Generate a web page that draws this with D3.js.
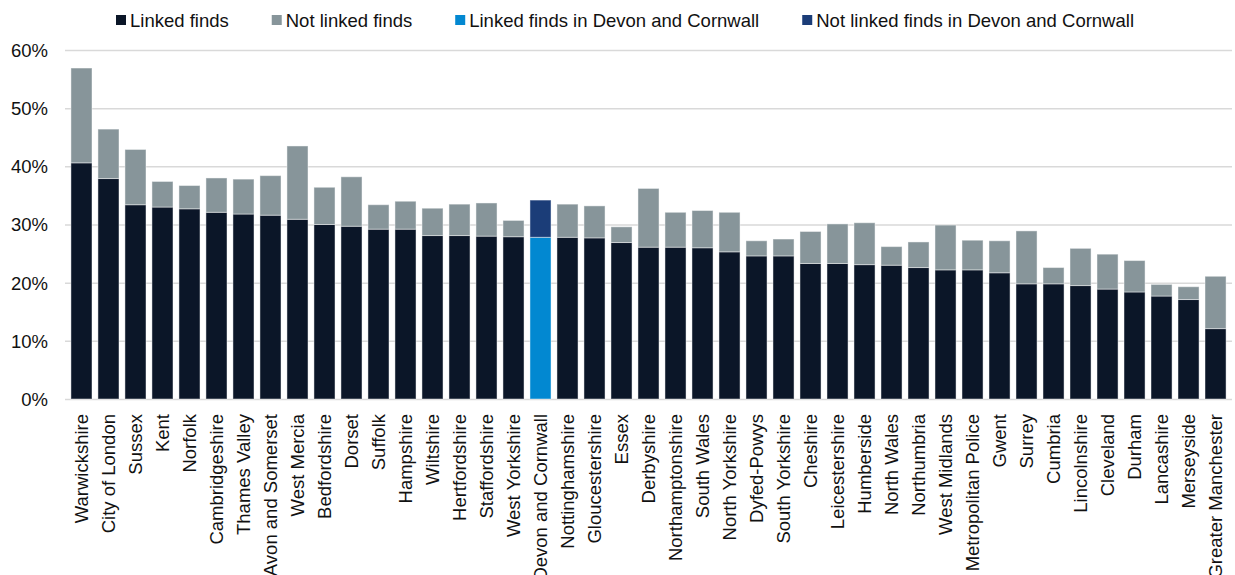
<!DOCTYPE html>
<head>
<meta charset="utf-8">
<style>

body {
  margin: 0;
  font-family: "Liberation Sans", Arial, sans-serif;
  background: #fff;
}

.grid line {
  stroke: #d9d9d9;
  stroke-width: 1.5;
}

.axis text {
  font-size: 18.5px;
  fill: #111;
}

.legend text {
  font-size: 18.5px;
  fill: #111;
}

</style>

<script src="https://cdn.jsdelivr.net/npm/d3@7"></script>
</head>

<body>

<div id="chart"></div>

<script>

var forces = ["Warwickshire", "City of London", "Sussex", "Kent", "Norfolk", "Cambridgeshire",
  "Thames Valley", "Avon and Somerset", "West Mercia", "Bedfordshire", "Dorset", "Suffolk",
  "Hampshire", "Wiltshire", "Hertfordshire", "Staffordshire", "West Yorkshire", "Devon and Cornwall",
  "Nottinghamshire", "Gloucestershire", "Essex", "Derbyshire", "Northamptonshire", "South Wales",
  "North Yorkshire", "Dyfed-Powys", "South Yorkshire", "Cheshire", "Leicestershire", "Humberside",
  "North Wales", "Northumbria", "West Midlands", "Metropolitan Police", "Gwent", "Surrey",
  "Cumbria", "Lincolnshire", "Cleveland", "Durham", "Lancashire", "Merseyside", "Greater Manchester"];

// percent of finds linked to a suspect
var linked = [40.6, 37.9, 33.4, 33.0, 32.7, 32.1, 31.8, 31.6, 30.9, 30.0, 29.7, 29.2,
  29.2, 28.1, 28.1, 28.0, 27.9, 27.8, 27.8, 27.7, 26.9, 26.1, 26.1, 26.0,
  25.3, 24.6, 24.6, 23.3, 23.3, 23.1, 23.0, 22.6, 22.2, 22.2, 21.7, 19.8,
  19.8, 19.5, 18.9, 18.4, 17.7, 17.1, 12.1];

// percent not linked, stacked on top
var notLinked = [16.3, 8.5, 9.5, 4.4, 4.0, 5.9, 6.0, 6.8, 12.6, 6.4, 8.5, 4.2,
  4.8, 4.7, 5.4, 5.7, 2.8, 6.4, 5.7, 5.5, 2.7, 10.1, 6.0, 6.4,
  6.8, 2.6, 2.9, 5.5, 6.8, 7.2, 3.2, 4.4, 7.7, 5.1, 5.5, 9.1,
  2.8, 6.4, 6.0, 5.4, 2.0, 2.2, 9.0];

var yTicks = [0, 10, 20, 30, 40, 50, 60];

var legendLabels = ["Linked finds", "Not linked finds",
  "Linked finds in Devon and Cornwall", "Not linked finds in Devon and Cornwall"];

var highlight = "Devon and Cornwall";

var colors = {
  linked: "#0b1628",
  notLinked: "#87959a",
  linkedHi: "#0288d1",
  notLinkedHi: "#1b3d78"
};

var margin = {top: 50, right: 3, bottom: 176, left: 65},
    width = 1235 - margin.left - margin.right,
    height = 575 - margin.top - margin.bottom;

var table = forces.map(function(f, i) {
  return {force: f, linked: linked[i], notLinked: notLinked[i]};
});

var series = d3.stack().keys(["linked", "notLinked"])(table);

var x = d3.scaleBand().domain(forces).range([0, width]).padding(0.22);

var y = d3.scaleLinear().domain([0, 60]).range([height, 0]);

var svg = d3.select("#chart").append("svg")
    .attr("width", width + margin.left + margin.right)
    .attr("height", height + margin.top + margin.bottom)
  .append("g")
    .attr("transform", "translate(" + margin.left + "," + margin.top + ")");

// gridlines + y labels
var yAxis = svg.append("g")
    .attr("class", "axis grid")
    .call(d3.axisLeft(y).tickValues(yTicks).tickSize(-width).tickPadding(17)
      .tickFormat(function(d) { return d + "%"; }));
yAxis.select(".domain").remove();
yAxis.selectAll("text").attr("dy", "0.35em");

svg.selectAll(".layer")
  .data(series)
  .enter().append("g")
    .attr("class", "layer")
  .selectAll("rect")
  .data(function(s) { return s.map(function(d) { d.key = s.key; return d; }); })
  .enter().append("rect")
    .attr("x", function(d) { return x(d.data.force); })
    .attr("width", x.bandwidth())
    .attr("y", function(d) { return y(d[1]); })
    .attr("height", function(d) { return y(d[0]) - y(d[1]); })
    .attr("fill", function(d) {
      if (d.data.force == highlight) { return d.key == "linked" ? colors.linkedHi : colors.notLinkedHi; }
      return colors[d.key];
    })
    .attr("stroke", "rgba(255,255,255,0.45)")
    .attr("stroke-width", 1);

var xAxis = svg.append("g")
    .attr("class", "axis")
    .attr("transform", "translate(0," + height + ")")
    .call(d3.axisBottom(x).tickSize(0));
xAxis.select(".domain").remove();
xAxis.selectAll("text")
    .attr("transform", "rotate(-90)")
    .attr("x", -15)
    .attr("y", 0)
    .attr("dy", "0.35em")
    .style("text-anchor", "end");

// legend
var legendColors = [colors.linked, colors.notLinked, colors.linkedHi, colors.notLinkedHi];
var legend = d3.select("svg").append("g").attr("class", "legend");
var lx = 116;
legendLabels.forEach(function(label, i) {
  var item = legend.append("g").attr("transform", "translate(" + lx + ",0)");
  item.append("rect")
    .attr("x", 0).attr("y", 15)
    .attr("width", 10).attr("height", 10)
    .attr("fill", legendColors[i]);
  var t = item.append("text")
    .attr("x", 14).attr("y", 27)
    .text(label);
  lx += 14 + t.node().getComputedTextLength() + 43;
});

</script>
</body>
